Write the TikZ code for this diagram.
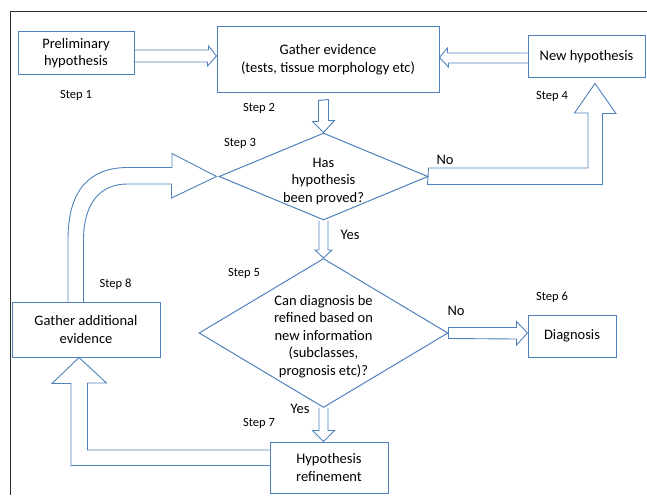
\documentclass[tikz,border=0pt]{standalone}
\usepackage{fontspec}
\setmainfont{Carlito}
\definecolor{boxblue}{RGB}{79,129,189}
\definecolor{framegray}{RGB}{45,45,45}
\usetikzlibrary{shapes.geometric, calc}
\tikzset{
  bx/.style 2 args={draw=boxblue, fill=white, line width=1pt,
              minimum width=#1, minimum height=#2, align=center},
  decide/.style 2 args={diamond, draw=boxblue, fill=white, line width=1pt,
              inner sep=0pt, minimum width=#1, minimum height=#2},
  blk/.style={draw=boxblue, line width=0.9pt, line join=miter},
}

\begin{document}
\begin{tikzpicture}[x=1pt, y=-1pt,
      every node/.style={font=\fontsize{14.5}{17.5}\selectfont, align=center},
      steplbl/.style={font=\fontsize{12.5}{15}\selectfont},
    ]
    \useasboundingbox (0,0) rectangle (647,495);

    % frame (only top and left edges show)
    \draw[framegray, line width=1pt] (10,495) -- (10,12) -- (647,12);

    % ─── top row ───────────────────────────────────────────────────────
    \node[bx={116pt}{42pt}] (prelim) at (76,53) {Preliminary\\hypothesis};
    \node[bx={222pt}{65pt}] (gather) at (328,59.5) {Gather evidence\\(tests, tissue morphology etc)};
    \node[bx={117pt}{41pt}] (newhyp) at (586.5,56.5) {New hypothesis};

    \draw[blk] ($(prelim.east)+(0,-3)$) -- ++(74,0) -- ++(0,-4)
      -- ($(gather.west)+(0,-3.5)$) -- ++(-9,10) -- ++(0,-4) -- ++(-74,0);
    \draw[blk] ($(newhyp.west)+(0,-3.5)$) -- ++(-80,0) -- ++(0,-5)
      -- ($(gather.east)+(0,-2)$) -- ++(9,9.5) -- ++(0,-4) -- ++(80,0);

    \node[steplbl] (st1) at (76,95) {Step 1};
    \node[steplbl] (st2) at (259,108) {Step 2};
    \node[steplbl] (st4) at (552,96) {Step 4};

    % ─── first decision ────────────────────────────────────────────────
    \node[decide={209pt}{87pt}] (dec1) at (323.5,176.5) {};
    \node (dec1txt) at ($(dec1)+(0,5)$) {Has\\hypothesis\\been proved?};
    \node[steplbl] (st3) at (240,143) {Step 3};

    \draw[blk] ($(gather.south -| dec1.north)+(-5,8)$) -- ++(0,21) -- ++(-6,0)
      -- (dec1.north) -- ++(11,-12) -- ++(-6,0) -- ++(0,-21) -- cycle;

    % No -> new hypothesis
    \draw[blk] ($(dec1.east)+(0,-8.5)$) -- ++(159.5,0) -- ++(0,-55) -- ++(-13.5,0)
      -- ($(newhyp.south)+(8.5,6)$) -- ++(21,30) -- ++(-13.5,0) -- ++(0,71)
      -- ++(-175,0) -- cycle;
    \node (no1) at (445,160) {No};

    % ─── second decision ───────────────────────────────────────────────
    \node[decide={249pt}{149pt}] (dec2) at (323.5,333) {};
    \node (dec2txt) at ($(dec2)+(0,3.5)$)
      {Can diagnosis be\\refined based on\\new information\\(subclasses,\\prognosis etc)?};
    \node[steplbl] (st5) at (244,273) {Step 5};

    \draw[blk] ($(dec1.south)+(-4.5,0)$) -- ($(dec2.north)+(-4.5,-8)$) -- ++(-4,0)
      -- (dec2.north) -- ++(8.5,-8) -- ++(-4,0) -- ($(dec1.south)+(4.5,0)$);
    \node (yes1) at (350,235) {Yes};

    % No -> diagnosis
    \node[bx={88pt}{42pt}] (diag) at (572,336) {Diagnosis};
    \node[steplbl] (st6) at (552,297) {Step 6};
    \draw[blk] ($(dec2.east)+(0,-5.5)$) -- ($(diag.west)+(-11,-8.5)$) -- ++(0,-6)
      -- ($(diag.west)+(0,-3)$) -- ++(-11,12) -- ++(0,-6)
      -- ($(dec2.east)+(0,5.5)$) -- cycle;
    \node (no2) at (456,311) {No};

    % Yes -> refinement
    \node[bx={118pt}{51pt}] (hypref) at (329,467.5) {Hypothesis\\refinement};
    \node[steplbl] (st7) at (259,423) {Step 7};
    \draw[blk] ($(dec2.south)+(-4.5,0)$) -- ($(dec2.south |- hypref.north)+(-4.5,-11)$)
      -- ++(-6.5,0) -- (dec2.south |- hypref.north) -- ++(11,-11) -- ++(-6.5,0)
      -- ($(dec2.south)+(4.5,0)$);
    \node (yes2) at (300,409) {Yes};

    % ─── loop back through additional evidence ─────────────────────────
    \node[bx={148pt}{55pt}] (gathadd) at (86,329.5) {Gather additional\\evidence};
    \node[steplbl] (st8) at (115.5,284) {Step 8};

    \draw[blk] ($(hypref.west)+(0,-17.5)$) -- ++(-182,0) -- ++(0,-67) -- ++(19,0)
      -- ($(gathadd.south)+(-7,0)$) -- ++(-27,26) -- ++(19,0) -- ++(0,82)
      -- ++(199,0);

    \draw[blk] ($(gathadd.north)+(-18,0)$) -- ++(0,-62)
      .. controls +(0,-50) and +(-38,0) .. ++(60,-72) -- ++(44,0) -- ++(0,-14)
      -- ($(dec1.west)+(-2,0)$) -- ++(-45,21.5) -- ++(0,-14) -- ++(-44,0)
      .. controls +(-28,0) and +(0,-36) .. ++(-44,56) -- ++(0,62);

  \end{tikzpicture}
\end{document}
